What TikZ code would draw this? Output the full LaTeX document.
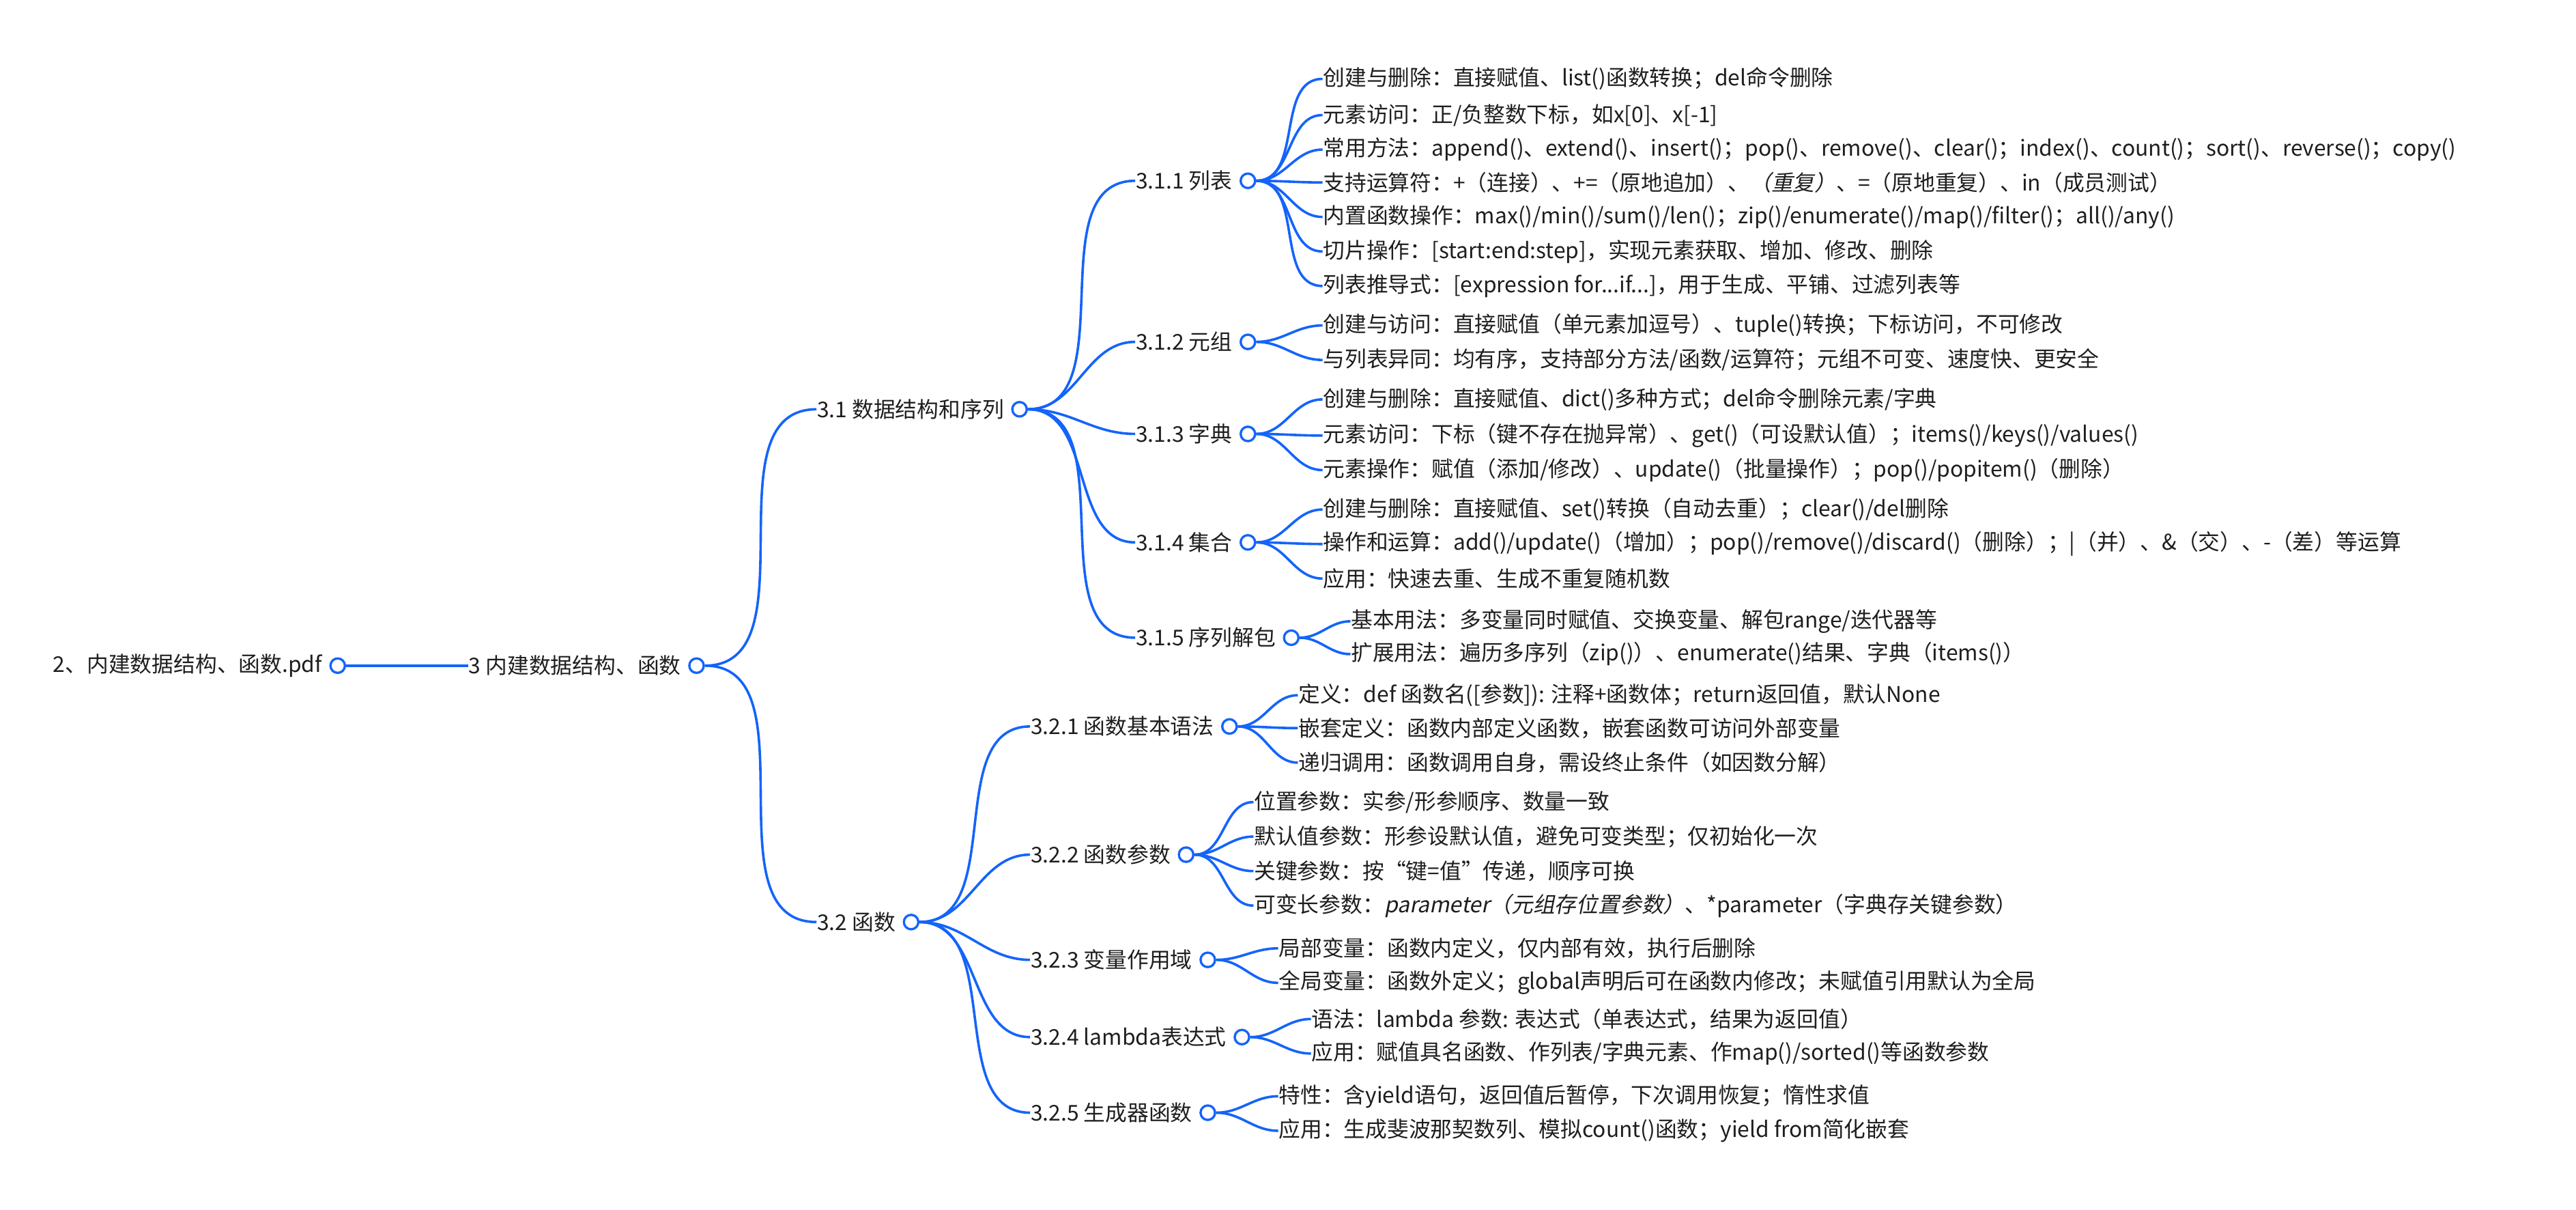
\documentclass[tikz,border=0pt]{standalone}
\usepackage{fontspec}
\setmainfont{Noto Sans CJK SC}
\newfontfamily\slantcjk[FakeSlant=0.2]{Noto Sans CJK SC}
\usetikzlibrary{positioning}
\definecolor{lineblue}{RGB}{20,100,250}
\definecolor{txtgray}{RGB}{30,30,30}

\begin{document}
\begin{tikzpicture}[x=0.5pt,y=-0.5pt]
      \tikzstyle{topic}=[anchor=west,inner sep=0pt,text=txtgray,font=\fontsize{6.6}{8}\selectfont]
      \tikzstyle{dot}=[circle,draw=lineblue,fill=white,line width=0.7pt,inner sep=0pt,minimum size=4.4pt]
      \tikzstyle{branch}=[draw=lineblue,line width=0.75pt,out=0,in=180]
      \useasboundingbox (0,0) rectangle (1568,736);
      % root and first level
      \node[topic] (root) at (32,405) {2、内建数据结构、函数.pdf};
      \node[dot,right=2pt of root] (droot) {};
      \node[topic] (t3) at (285,405) {3 内建数据结构、函数};
      \node[dot,right=2pt of t3] (d3) {};
      \node[topic] (t31) at (497,249) {3.1 数据结构和序列};
      \node[dot,right=2pt of t31] (d31) {};
      \node[topic] (t32) at (497,561) {3.2 函数};
      \node[dot,right=2pt of t32] (d32) {};
      % 3.1
      \node[topic] (t311) at (691,110) {3.1.1 列表};
      \node[dot,right=2pt of t311] (d311) {};
      \node[topic] (t312) at (691,208) {3.1.2 元组};
      \node[dot,right=2pt of t312] (d312) {};
      \node[topic] (t313) at (691,264) {3.1.3 字典};
      \node[dot,right=2pt of t313] (d313) {};
      \node[topic] (t314) at (691,330) {3.1.4 集合};
      \node[dot,right=2pt of t314] (d314) {};
      \node[topic] (t315) at (691,388) {3.1.5 序列解包};
      \node[dot,right=2pt of t315] (d315) {};
      % 3.2
      \node[topic] (t321) at (627,442) {3.2.1 函数基本语法};
      \node[dot,right=2pt of t321] (d321) {};
      \node[topic] (t322) at (627,520) {3.2.2 函数参数};
      \node[dot,right=2pt of t322] (d322) {};
      \node[topic] (t323) at (627,584) {3.2.3 变量作用域};
      \node[dot,right=2pt of t323] (d323) {};
      \node[topic] (t324) at (627,631) {3.2.4 lambda表达式};
      \node[dot,right=2pt of t324] (d324) {};
      \node[topic] (t325) at (627,677) {3.2.5 生成器函数};
      \node[dot,right=2pt of t325] (d325) {};
      % leaves 3.1.1
      \node[topic] (l3111) at (805,48) {创建与删除：直接赋值、list()函数转换；del命令删除};
      \node[topic] (l3112) at (805,70) {元素访问：正/负整数下标，如x[0]、x[-1]};
      \node[topic] (l3113) at (805,91) {常用方法：append()、extend()、insert()；pop()、remove()、clear()；index()、count()；sort()、reverse()；copy()};
      \node[topic] (l3114) at (805,111) {支持运算符：+（连接）、+=（原地追加）、{\slantcjk（重复）}、=（原地重复）、in（成员测试）};
      \node[topic] (l3115) at (805,132) {内置函数操作：max()/min()/sum()/len()；zip()/enumerate()/map()/filter()；all()/any()};
      \node[topic] (l3116) at (805,153) {切片操作：[start:end:step]，实现元素获取、增加、修改、删除};
      \node[topic] (l3117) at (805,174) {列表推导式：[expression for...if...]，用于生成、平铺、过滤列表等};
      % leaves 3.1.2 - 3.1.5
      \node[topic] (l3121) at (805,198) {创建与访问：直接赋值（单元素加逗号）、tuple()转换；下标访问，不可修改};
      \node[topic] (l3122) at (805,219) {与列表异同：均有序，支持部分方法/函数/运算符；元组不可变、速度快、更安全};
      \node[topic] (l3131) at (805,243) {创建与删除：直接赋值、dict()多种方式；del命令删除元素/字典};
      \node[topic] (l3132) at (805,265) {元素访问：下标（键不存在抛异常）、get()（可设默认值）；items()/keys()/values()};
      \node[topic] (l3133) at (805,286) {元素操作：赋值（添加/修改）、update()（批量操作）；pop()/popitem()（删除）};
      \node[topic] (l3141) at (805,310) {创建与删除：直接赋值、set()转换（自动去重）；clear()/del删除};
      \node[topic] (l3142) at (805,331) {操作和运算：add()/update()（增加）；pop()/remove()/discard()（删除）；|（并）、\&（交）、-（差）等运算};
      \node[topic] (l3143) at (805,352) {应用：快速去重、生成不重复随机数};
      \node[topic] (l3151) at (822,378) {基本用法：多变量同时赋值、交换变量、解包range/迭代器等};
      \node[topic] (l3152) at (822,398) {扩展用法：遍历多序列（zip()）、enumerate()结果、字典（items()）};
      % leaves 3.2.x
      \node[topic] (l3211) at (790,423) {定义：def 函数名([参数]): 注释+函数体；return返回值，默认None};
      \node[topic] (l3212) at (790,443) {嵌套定义：函数内部定义函数，嵌套函数可访问外部变量};
      \node[topic] (l3213) at (790,464) {递归调用：函数调用自身，需设终止条件（如因数分解）};
      \node[topic] (l3221) at (763,488) {位置参数：实参/形参顺序、数量一致};
      \node[topic] (l3222) at (763,509) {默认值参数：形参设默认值，避免可变类型；仅初始化一次};
      \node[topic] (l3223) at (763,530) {关键参数：按“键=值”传递，顺序可换};
      \node[topic] (l3224) at (763,551) {可变长参数：{\slantcjk parameter（元组存位置参数）}、*parameter（字典存关键参数）};
      \node[topic] (l3231) at (778,577) {局部变量：函数内定义，仅内部有效，执行后删除};
      \node[topic] (l3232) at (778,598) {全局变量：函数外定义；global声明后可在函数内修改；未赋值引用默认为全局};
      \node[topic] (l3241) at (798,620) {语法：lambda 参数: 表达式（单表达式，结果为返回值）};
      \node[topic] (l3242) at (798,641) {应用：赋值具名函数、作列表/字典元素、作map()/sorted()等函数参数};
      \node[topic] (l3251) at (778,667) {特性：含yield语句，返回值后暂停，下次调用恢复；惰性求值};
      \node[topic] (l3252) at (778,688) {应用：生成斐波那契数列、模拟count()函数；yield from简化嵌套};
      % connectors
      \draw[branch] (droot.east) -- (t3.west);
      \draw[branch] (d3.east) to (t31.west);
      \draw[branch] (d3.east) to (t32.west);
      \draw[branch] (d31.east) to (t311.west);
      \draw[branch] (d31.east) to (t312.west);
      \draw[branch] (d31.east) to (t313.west);
      \draw[branch] (d31.east) to (t314.west);
      \draw[branch] (d31.east) to (t315.west);
      \draw[branch] (d32.east) to (t321.west);
      \draw[branch] (d32.east) to (t322.west);
      \draw[branch] (d32.east) to (t323.west);
      \draw[branch] (d32.east) to (t324.west);
      \draw[branch] (d32.east) to (t325.west);
      \draw[branch] (d311.east) to (l3111.west);
      \draw[branch] (d311.east) to (l3112.west);
      \draw[branch] (d311.east) to (l3113.west);
      \draw[branch] (d311.east) to (l3114.west);
      \draw[branch] (d311.east) to (l3115.west);
      \draw[branch] (d311.east) to (l3116.west);
      \draw[branch] (d311.east) to (l3117.west);
      \draw[branch] (d312.east) to (l3121.west);
      \draw[branch] (d312.east) to (l3122.west);
      \draw[branch] (d313.east) to (l3131.west);
      \draw[branch] (d313.east) to (l3132.west);
      \draw[branch] (d313.east) to (l3133.west);
      \draw[branch] (d314.east) to (l3141.west);
      \draw[branch] (d314.east) to (l3142.west);
      \draw[branch] (d314.east) to (l3143.west);
      \draw[branch] (d315.east) to (l3151.west);
      \draw[branch] (d315.east) to (l3152.west);
      \draw[branch] (d321.east) to (l3211.west);
      \draw[branch] (d321.east) to (l3212.west);
      \draw[branch] (d321.east) to (l3213.west);
      \draw[branch] (d322.east) to (l3221.west);
      \draw[branch] (d322.east) to (l3222.west);
      \draw[branch] (d322.east) to (l3223.west);
      \draw[branch] (d322.east) to (l3224.west);
      \draw[branch] (d323.east) to (l3231.west);
      \draw[branch] (d323.east) to (l3232.west);
      \draw[branch] (d324.east) to (l3241.west);
      \draw[branch] (d324.east) to (l3242.west);
      \draw[branch] (d325.east) to (l3251.west);
      \draw[branch] (d325.east) to (l3252.west);
    \end{tikzpicture}
\end{document}
